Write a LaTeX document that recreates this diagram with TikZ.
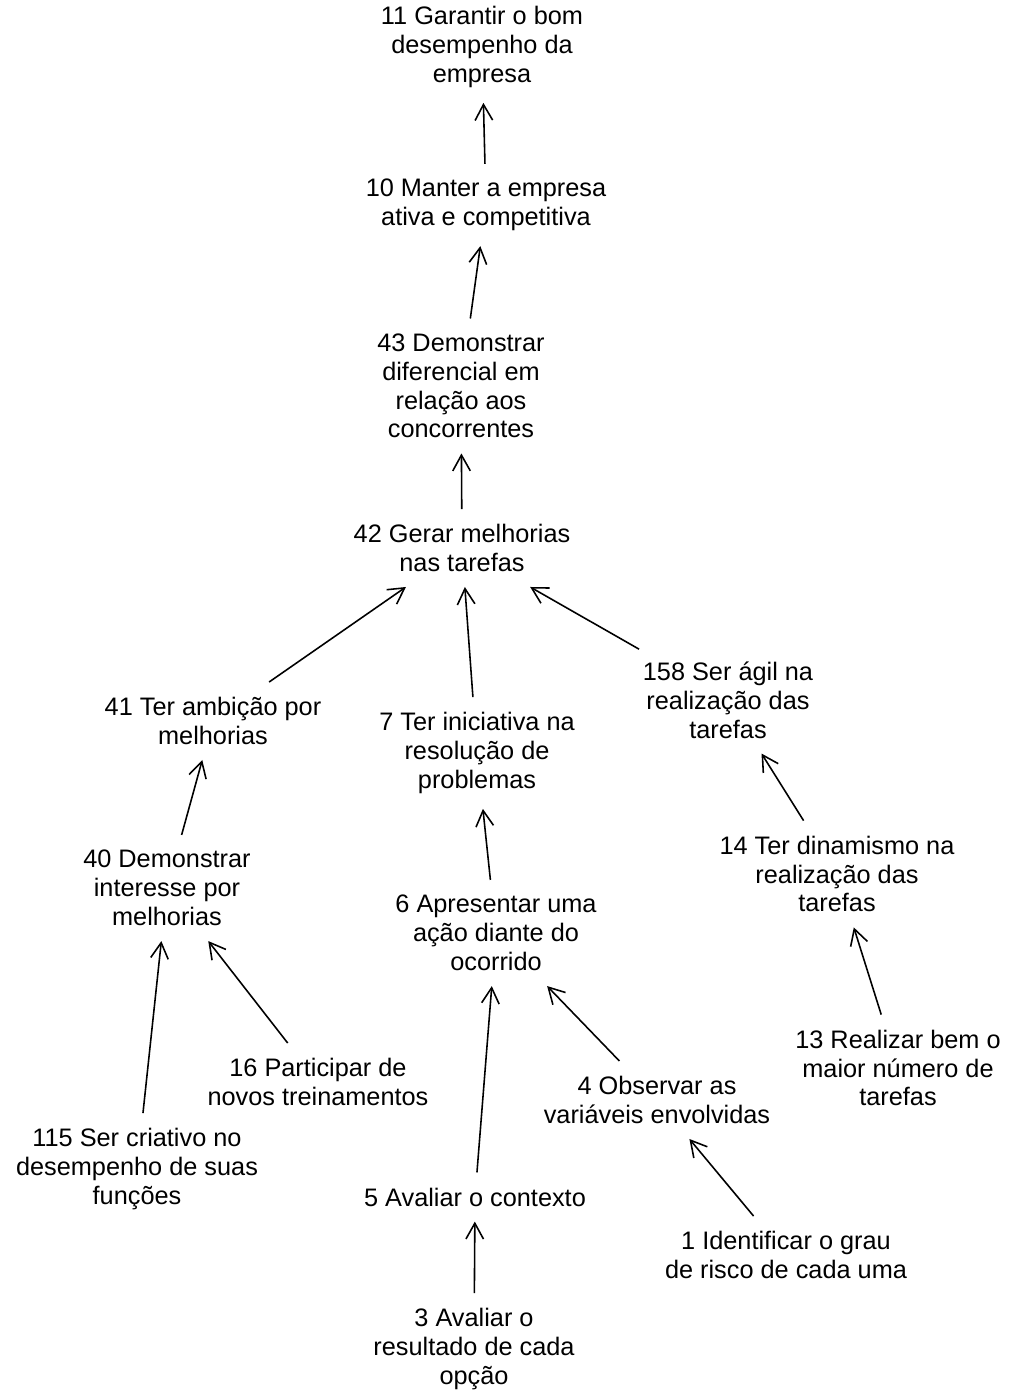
\documentclass[tikz,border=0pt]{standalone}
\usepackage{fontspec}
\setmainfont{Liberation Sans}
\usepackage{tikz}
\usetikzlibrary{arrows.meta}

\begin{document}
\begin{tikzpicture}[x=0.02cm, y=-0.02cm,
    goal/.style={align=center, inner xsep=2pt, inner ysep=8.5pt,
      font=\fontsize{14.4}{16.4}\selectfont},
    link/.style={-{Straight Barb[length=9pt, width=10pt]}, line width=0.9pt}]
  \useasboundingbox (0,0) rectangle (1009,1391);
  % concepts of the map
  \foreach \nm/\x/\y/\txt in {
      n11/482/47/{11 Garantir o bom\\desempenho da\\empresa},
      n10/486/205/{10 Manter a empresa\\ativa e competitiva},
      n43/461/386/{43 Demonstrar\\diferencial em\\relação aos\\concorrentes},
      n42/462/548/{42 Gerar melhorias\\nas tarefas},
      n41/213/721/{41 Ter ambição por\\melhorias},
      n7/477/753/{7 Ter iniciativa na\\resolução de\\problemas},
      n158/728/700/{158 Ser ágil na\\realização das\\tarefas},
      n40/167/888/{40 Demonstrar\\interesse por\\melhorias},
      n14/837/874/{14 Ter dinamismo na\\realização das\\tarefas},
      n6/496/933/{6 Apresentar uma\\ação diante do\\ocorrido},
      n13/898/1068/{13 Realizar bem o\\maior número de\\tarefas},
      n16/318/1082/{16 Participar de\\novos treinamentos},
      n4/657/1100/{4 Observar as\\variáveis envolvidas},
      n115/137/1169/{115 Ser criativo no\\desempenho de suas\\funções},
      n5/475/1197/{5 Avaliar o contexto},
      n1/786/1255/{1 Identificar o grau\\de risco de cada uma},
      n3/474/1349/{3 Avaliar o\\resultado de cada\\opção}} {
    \node[goal] (\nm) at (\x,\y) {\txt};
  }
  % means-ends links
  \foreach \a/\b in {n10/n11, n43/n10, n42/n43, n41/n42, n7/n42, n158/n42,
      n40/n41, n6/n7, n14/n158, n115/n40, n16/n40, n5/n6, n4/n6, n13/n14,
      n1/n4, n3/n5} {
    \draw[link] (\a) -- (\b);
  }
\end{tikzpicture}
\end{document}
